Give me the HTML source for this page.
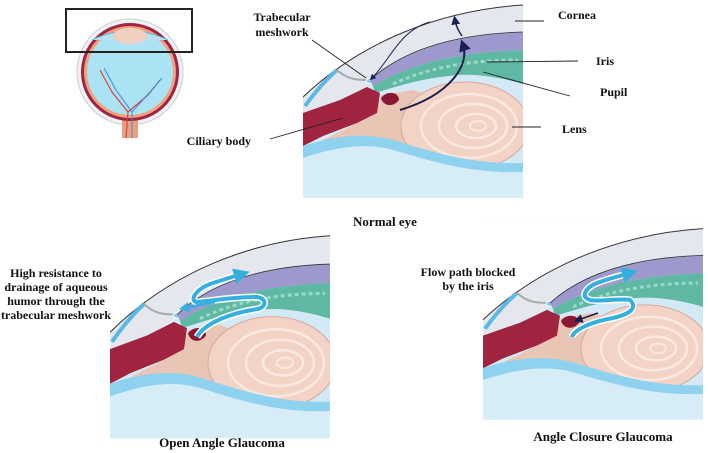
<!DOCTYPE html>
<html><head><meta charset="utf-8"><style>
html,body{margin:0;padding:0;background:#fff;}
svg{display:block}
text{font-family:"Liberation Serif",serif;font-weight:bold;fill:#111;}
</style></head><body>
<svg width="708" height="453" viewBox="0 0 708 453" xmlns="http://www.w3.org/2000/svg">
<defs>
<clipPath id="pc"><rect x="0" y="0" width="220" height="198"/></clipPath>
<marker id="ah" markerWidth="6" markerHeight="6" refX="3" refY="3" orient="auto"><path d="M0,0 L6,3 L0,6 z" fill="#1a2050"/></marker>
<marker id="bh" markerWidth="4" markerHeight="4" refX="2" refY="2" orient="auto"><path d="M0,0 L4,2 L0,4 z" fill="#35aee0"/></marker>
<g id="eye">
 <g clip-path="url(#pc)">
  <rect x="0" y="0" width="220" height="198" fill="#d3e9f6"/>
  <path d="M0,0 L220,0 L220,5 C150,10 80,30 0,97 Z" fill="#fff"/>
  <path d="M0,97 C60,40 140,10 220,5 L220,32 C150,34 100,50 67,80 L60,90 L0,113 Z" fill="#e4e8ee"/>
  <path d="M0,97 C60,40 140,10 220,5" fill="none" stroke="#333" stroke-width="1"/>
  <path d="M2,106 C10,95 20,82 34,70" stroke="#5ab8e4" stroke-width="4" fill="none"/>
  <path d="M34,70 C45,80 55,80 66,80" stroke="#aaa" stroke-width="2" fill="none"/>
  <ellipse cx="67" cy="81" rx="4" ry="2.5" fill="#7fcff0" stroke="#fff"/>
  <path d="M67,80 C100,50 150,34 220,32 L220,50 C160,52 110,62 70,86 Z" fill="#9d99cc"/>
  <path d="M67,80 C100,50 150,34 220,32" fill="none" stroke="#333" stroke-width="0.8"/>
  <path d="M70,86 C110,62 160,52 220,50 L220,84 C200,78 170,72 145,76 C110,80 90,88 72,93 Z" fill="#5fb8a3"/>
  <path d="M90,84 C120,70 160,60 215,60" fill="none" stroke="#9ad8c8" stroke-width="3" stroke-dasharray="4 3"/>
  <path d="M54,123 L74,110 L78,95 L110,90 L140,100 L130,150 L60,140 L20,140 Z" fill="#e9c5b5"/>
  <path d="M78,98 C84,90 96,92 96,100 C90,108 80,106 78,98 Z" fill="#8a1833"/>
  <ellipse cx="162" cy="126" rx="64" ry="44" fill="#f2d3c6" stroke="#d9a899"/>
  <ellipse cx="166" cy="126" rx="48" ry="32" fill="none" stroke="#fbe8e0" stroke-width="2.5"/>
  <ellipse cx="170" cy="126" rx="34" ry="22" fill="none" stroke="#fbe8e0" stroke-width="2.5"/>
  <ellipse cx="173" cy="126" rx="20" ry="12" fill="none" stroke="#fbe8e0" stroke-width="2.5"/>
  <ellipse cx="175" cy="126" rx="8" ry="5" fill="none" stroke="#fbe8e0" stroke-width="2"/>
  <path d="M0,113 L37,100 L64,87 L77,93 L74,113 L54,123 L20,136 L0,146 Z" fill="#a0233f"/>
  <path d="M0,146 C30,136 60,132 90,140 C130,152 170,165 220,163 L220,172 C170,174 130,162 90,150 C60,142 30,148 0,158 Z" fill="#8ed2f0"/>
  <path d="M0,158 C30,148 60,142 90,150 C130,162 170,174 220,172 L220,198 L0,198 Z" fill="#d6edf8"/>
 </g>
</g>
</defs>

<circle cx="130" cy="72" r="53" fill="#eef2f6" stroke="#ccc"/>
<rect x="122" y="100" width="16" height="38" fill="#e8a080"/>
<circle cx="130" cy="72" r="49" fill="#a0233f"/>
<circle cx="130" cy="72" r="46" fill="#f0a27e"/>
<circle cx="130" cy="72" r="43" fill="#abe2f4"/>
<path d="M92,40 Q130,22 168,40" fill="#b8e0ee" stroke="#5ab8e4"/>
<ellipse cx="130" cy="36" rx="17" ry="8" fill="#f0d0c0"/>
<path d="M126,138 L128,112 L112,92 M128,112 L148,95 M112,92 L100,70 M148,95 L160,80" stroke="#e0403a" stroke-width="1.2" fill="none"/>
<path d="M132,138 L132,112 L116,90 M132,112 L150,92 M116,90 L104,68 M150,92 L162,78" stroke="#3a8ee0" stroke-width="1" fill="none"/>
<rect x="66" y="9" width="126" height="43" fill="none" stroke="#222" stroke-width="2"/>

<use href="#eye" x="303" y="0"/>
<path d="M400,110 C450,95 470,65 463,45" fill="none" stroke="#1a2050" stroke-width="2" marker-end="url(#ah)"/>
<path d="M462,36 C458,30 456,26 455,20" fill="none" stroke="#1a2050" stroke-width="1.5" marker-end="url(#ah)"/>
<path d="M430,22 C400,30 390,60 372,78" fill="none" stroke="#1a2050" stroke-width="1" marker-end="url(#ah)"/>
<g stroke="#222" stroke-width="0.9">
<line x1="515" y1="21" x2="544" y2="21"/><line x1="487" y1="62" x2="578" y2="61"/>
<line x1="483" y1="72" x2="570" y2="96"/><line x1="512" y1="127" x2="541" y2="127"/>
<line x1="312" y1="40" x2="366" y2="78"/><line x1="270" y1="139" x2="343" y2="118"/>
</g>
<text x="577" y="19" font-size="12" text-anchor="middle">Cornea</text>
<text x="596" y="65" font-size="12">Iris</text>
<text x="600" y="96" font-size="12">Pupil</text>
<text x="562" y="133" font-size="12">Lens</text>
<text x="282" y="21" font-size="12" text-anchor="middle">Trabecular</text>
<text x="282" y="36" font-size="12" text-anchor="middle">meshwork</text>
<text x="251" y="145" font-size="12" text-anchor="end">Ciliary body</text>
<text x="385" y="226" font-size="13" text-anchor="middle">Normal eye</text>

<use href="#eye" x="110" y="230" transform="translate(0,-11) scale(1,1.05)" />
<g fill="none">
<path d="M197,337 C205,322 235,312 258,309 C268,306 266,297 255,297 C230,297 205,302 196,302 C190,300 195,290 210,284 C222,280 232,277 242,274" stroke="#fff" stroke-width="7"/>
<path d="M197,337 C205,322 235,312 258,309 C268,306 266,297 255,297 C230,297 205,302 196,302 C190,300 195,290 210,284 C222,280 232,277 242,274" stroke="#35aee0" stroke-width="4" marker-end="url(#bh)"/>
<path d="M215,302 L184,308" stroke="#35aee0" stroke-width="2.5" marker-end="url(#bh)"/>
</g>
<text x="56" y="277" font-size="12" text-anchor="middle">High resistance to</text>
<text x="56" y="291" font-size="12" text-anchor="middle">drainage of aqueous</text>
<text x="56" y="305" font-size="12" text-anchor="middle">humor through the</text>
<text x="56" y="319" font-size="12" text-anchor="middle">trabecular meshwork</text>
<text x="222" y="447" font-size="13" text-anchor="middle">Open Angle Glaucoma</text>

<use href="#eye" x="483" y="228" transform="translate(0,-2) scale(1,0.99)"/>
<g fill="none">
<path d="M572,337 C574,330 590,322 613,318 C630,314 638,308 630,300 C620,298 600,302 590,300 C580,297 585,288 597,283 C610,278 620,276 630,273" stroke="#fff" stroke-width="7"/>
<path d="M572,337 C574,330 590,322 613,318 C630,314 638,308 630,300 C620,298 600,302 590,300 C580,297 585,288 597,283 C610,278 620,276 630,273" stroke="#35aee0" stroke-width="4" marker-end="url(#bh)"/>
</g>
<path d="M598,313 L578,320" stroke="#1a2050" stroke-width="1.5" marker-end="url(#ah)"/>
<text x="468" y="276" font-size="12" text-anchor="middle">Flow path blocked</text>
<text x="468" y="290" font-size="12" text-anchor="middle">by the iris</text>
<text x="603" y="441" font-size="13" text-anchor="middle">Angle Closure Glaucoma</text>
</svg>
</body></html>
